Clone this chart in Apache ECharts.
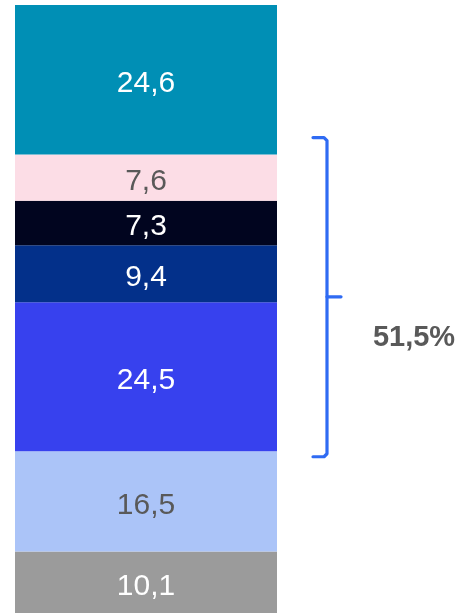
<!DOCTYPE html>
<html><head><meta charset="utf-8">
<script src="https://cdn.jsdelivr.net/npm/echarts@6/dist/echarts.min.js"></script>
<style>html,body{margin:0;padding:0;background:#fff}#c{width:462px;height:613px}</style>
</head><body><div id="c"></div>
<script>
const categories = ['Total'];
const segmentNames = ['s1','s2','s3','s4','s5','s6','s7'];
const segmentValues = [10.1, 16.5, 24.5, 9.4, 7.3, 7.6, 24.6];
const segmentColors = ['#9B9B9B','#ABC4F8','#3741EE','#03308A','#01051F','#FCDDE6','#008FB5'];
const labelColors = ['#FFFFFF','#595959','#FFFFFF','#FFFFFF','#FFFFFF','#595959','#FFFFFF'];
const bracketLabel = '51,5%';
const bracketRange = [25.7, 78.2, 52.0]; // bottom, top, tip (value axis)

const font = '"Liberation Sans", Arial, sans-serif';
const chart = echarts.init(document.getElementById('c'));
chart.setOption({
  animation: false,
  grid: {left: 15, right: 185, top: 5, height: 610},
  xAxis: {type: 'category', data: categories, show: false, boundaryGap: true},
  yAxis: {type: 'value', min: 0, max: 100, show: false},
  series: segmentValues.map((v, i) => ({
    name: segmentNames[i], type: 'bar', stack: 'a', barWidth: '100%',
    data: [v],
    itemStyle: {color: segmentColors[i]},
    label: {show: true, position: 'inside', offset: [0, 4], color: labelColors[i], fontSize: 30,
      fontFamily: font, formatter: p => String(p.value).replace('.', ',')}
  }))
});

const xLine = 327, serif = 14, tip = 14;
const yb = chart.convertToPixel({yAxisIndex: 0}, bracketRange[0]);
const yt = chart.convertToPixel({yAxisIndex: 0}, bracketRange[1]);
const ym = chart.convertToPixel({yAxisIndex: 0}, bracketRange[2]);
const style = {stroke: '#2F6BF3', lineWidth: 3.2, fill: null, lineJoin: 'round', lineCap: 'round'};
chart.setOption({
  graphic: [
    {type: 'polyline', shape: {points: [[xLine-serif, yt], [xLine-3, yt], [xLine, yt+3], [xLine, yb-3], [xLine-3, yb], [xLine-serif, yb]]},
      style: style},
    {type: 'line', shape: {x1: xLine, y1: ym, x2: xLine + tip, y2: ym}, style: style},
    {type: 'text', x: 414, y: 338, style: {text: bracketLabel, fill: '#595959',
      font: 'bold 29px ' + font, align: 'center', verticalAlign: 'middle'}}
  ]
});
</script></body></html>
